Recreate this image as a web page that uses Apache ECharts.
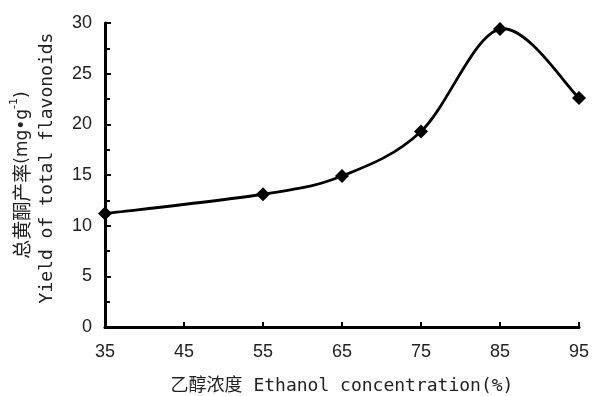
<!DOCTYPE html>
<html>
<head>
<meta charset="utf-8">
<script src="https://cdn.jsdelivr.net/npm/echarts@6/dist/echarts.min.js"></script>
<style>html,body{margin:0;padding:0;background:#fff;}#c{width:594px;height:396px;}</style>
</head>
<body>
<div id="c"></div>
<script>
var ethanol = [35, 55, 65, 75, 85, 95];
var yieldValues = [11.2, 13.1, 14.9, 19.3, 29.4, 22.6];
var xTicks = [35, 45, 55, 65, 75, 85, 95];
var yTicks = [0, 5, 10, 15, 20, 25, 30];
var xAxisTitle = '乙醇浓度 Ethanol concentration(%)';
var yTitleCn = '总黄酮产率';
var yTitleUnit = '(mg•g';
var yTitleSup = '-1';
var yTitleEn = 'Yield of total flavonoids';

var points = ethanol.map(function (x, i) { return [x, yieldValues[i]]; });

// Smooth spline path through the data points (projected by the axes)
function renderCurve(params, api) {
  if (params.dataIndex !== 0) return null;
  var pts = points.map(function (p) { return api.coord(p); });
  var n = pts.length;
  var d = 'M' + pts[0][0] + ' ' + pts[0][1];
  for (var i = 0; i < n - 1; i++) {
    var p0 = pts[i - 1] || pts[i];
    var p1 = pts[i];
    var p2 = pts[i + 1];
    var p3 = pts[i + 2] || pts[i + 1];
    var c1x = p1[0] + (p2[0] - p0[0]) / 6;
    var c1y = p1[1] + (p2[1] - p0[1]) / 6;
    var c2x = p2[0] - (p3[0] - p1[0]) / 6;
    var c2y = p2[1] - (p3[1] - p1[1]) / 6;
    d += ' C' + c1x + ' ' + c1y + ' ' + c2x + ' ' + c2y + ' ' + p2[0] + ' ' + p2[1];
  }
  return {
    type: 'path',
    shape: {pathData: d},
    style: {fill: 'none', stroke: '#000', lineWidth: 2.8}
  };
}

var chart = echarts.init(document.getElementById('c'), null, {renderer: 'canvas'});
var labelFont = 'Liberation Sans';
chart.setOption({
  backgroundColor: '#fff',
  animation: false,
  grid: {left: 105, right: 15, top: 23, bottom: 69, containLabel: false, outerBoundsMode: 'none'},
  xAxis: {
    type: 'value',
    min: xTicks[0], max: xTicks[xTicks.length - 1], interval: 10,
    axisLine: {show: true, lineStyle: {color: '#000', width: 3}},
    axisTick: {show: true, inside: true, length: 5, lineStyle: {color: '#000', width: 2}},
    splitLine: {show: false},
    axisLabel: {color: '#222', fontSize: 18, fontFamily: labelFont, margin: 16,
      showMinLabel: true, showMaxLabel: true},
    name: xAxisTitle,
    nameLocation: 'middle',
    nameGap: 50,
    nameTextStyle: {color: '#222', fontSize: 18, fontFamily: 'DejaVu Sans Mono, Noto Sans CJK SC'}
  },
  yAxis: {
    type: 'value',
    min: yTicks[0], max: yTicks[yTicks.length - 1], interval: 5,
    axisLine: {show: true, lineStyle: {color: '#000', width: 3}},
    axisTick: {show: true, inside: true, length: 6, lineStyle: {color: '#000', width: 2}},
    minorTick: {show: true, splitNumber: 2, length: 5, lineStyle: {color: '#000', width: 2}},
    splitLine: {show: false},
    axisLabel: {color: '#222', fontSize: 18, fontFamily: labelFont, margin: 13}
  },
  graphic: [
    {
      type: 'text', x: 20, y: 175, rotation: Math.PI / 2,
      style: {
        text: '{cn|' + yTitleCn + '}{en|' + yTitleUnit + '}{sup|' + yTitleSup + '}{en|)}',
        align: 'center', verticalAlign: 'middle',
        rich: {
          cn: {fontSize: 19, fontFamily: 'Noto Sans CJK SC', fill: '#222', lineHeight: 22, verticalAlign: 'bottom'},
          en: {fontSize: 17, fontFamily: 'DejaVu Sans', fill: '#222', lineHeight: 22, verticalAlign: 'bottom'},
          sup: {fontSize: 11, fontFamily: 'DejaVu Sans', fill: '#222', lineHeight: 22, verticalAlign: 'top'}
        }
      }
    },
    {
      type: 'text', x: 47, y: 168, rotation: Math.PI / 2,
      style: {
        text: yTitleEn, align: 'center', verticalAlign: 'middle',
        fontSize: 18, fontFamily: 'DejaVu Sans Mono', fill: '#222'
      }
    }
  ],
  series: [
    {
      type: 'custom',
      renderItem: renderCurve,
      data: points,
      silent: true,
      z: 2
    },
    {
      type: 'line',
      data: points,
      symbol: 'diamond',
      symbolSize: 14,
      itemStyle: {color: '#000'},
      lineStyle: {width: 0, opacity: 0},
      z: 3
    }
  ]
});
</script>
</body>
</html>
